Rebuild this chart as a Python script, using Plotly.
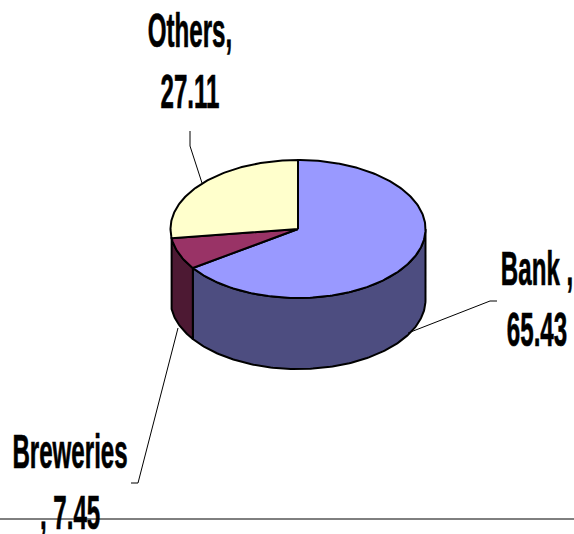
import numpy as np
import plotly.graph_objects as go

categories = ["Bank", "Breweries", "Others"]
values = [65.43, 7.45, 27.11]
top_colors = ["#9999ff", "#993366", "#ffffcc"]
wall_colors = ["#4d4d80", "#4d1933", None]
label_texts = ["Bank ,<br>65.43", "Breweries<br>, 7.45", "Others,<br>27.11"]
label_x = [537, 70, 190]
label_y = [239, 422, 1]

CX, CY, RX, RY, DEPTH = 298, 229, 127.5, 69, 71
LEADERS = [
    ([408, 490, 497], [333, 301, 301]),
    ([178, 138, 131], [328, 483, 483]),
    ([202, 190, 190], [183, 146, 131]),
]


def arc(a0, a1, dy=0):
    t = np.radians(np.linspace(a0, a1, max(int(abs(a1 - a0)), 2) + 1))
    return CX + RX * np.sin(t), CY + dy - RY * np.cos(t)


total = sum(values)
edges = np.concatenate([[0], np.cumsum(values) / total * 360])

fig = go.Figure()

for i, name in enumerate(categories):
    a0, a1 = max(edges[i], 90), min(edges[i + 1], 270)
    if wall_colors[i] is None or a1 <= a0:
        continue
    xt, yt = arc(a0, a1)
    xb, yb = arc(a1, a0, DEPTH)
    fig.add_trace(go.Scatter(
        x=np.concatenate([xt, xb, xt[:1]]), y=np.concatenate([yt, yb, yt[:1]]),
        mode="lines", fill="toself", fillcolor=wall_colors[i],
        line=dict(color="black", width=2), hoverinfo="skip", showlegend=False))

for i, name in enumerate(categories):
    xa, ya = arc(edges[i], edges[i + 1])
    fig.add_trace(go.Scatter(
        x=np.concatenate([[CX], xa, [CX]]), y=np.concatenate([[CY], ya, [CY]]),
        mode="lines", fill="toself", fillcolor=top_colors[i],
        line=dict(color="black", width=2), name=name, showlegend=False))

for lx, ly in LEADERS:
    fig.add_trace(go.Scatter(x=lx, y=ly, mode="lines",
                             line=dict(color="black", width=1),
                             hoverinfo="skip", showlegend=False))

for text, x, y in zip(label_texts, label_x, label_y):
    fig.add_annotation(x=x, y=y, xref="x", yref="y", text=text, showarrow=False,
                       xanchor="center", yanchor="top", align="center",
                       font=dict(family="Liberation Sans", size=36, color="black", weight=700))

fig.add_shape(type="line", x0=0, x1=574, y0=519, y1=519, xref="x", yref="y",
              line=dict(color="black", width=1), layer="above")

fig.update_layout(
    width=574, height=534, margin=dict(l=0, r=0, t=0, b=0),
    paper_bgcolor="white", plot_bgcolor="white",
    xaxis=dict(range=[0, 574], visible=False),
    yaxis=dict(range=[534, 0], visible=False),
)

post = """
document.body.style.margin = '0';
document.documentElement.style.overflow = 'hidden';
var gd = document.getElementsByClassName('plotly-graph-div')[0];
gd.querySelectorAll('text.annotation-text').forEach(function(t){
  var b = t.getBBox();
  var cx = b.x + b.width / 2, cy = b.y, sx = 0.67, sy = 1.32;
  t.style.stroke = 'black';
  t.style.strokeWidth = '0.5px';
  t.setAttribute('transform', 'translate(' + cx + ',' + cy + ') scale(' + sx + ',' + sy + ') translate(' + (-cx) + ',' + (-cy) + ')');
});
"""
fig.write_html("out.html", post_script=post, config={"displayModeBar": False})
